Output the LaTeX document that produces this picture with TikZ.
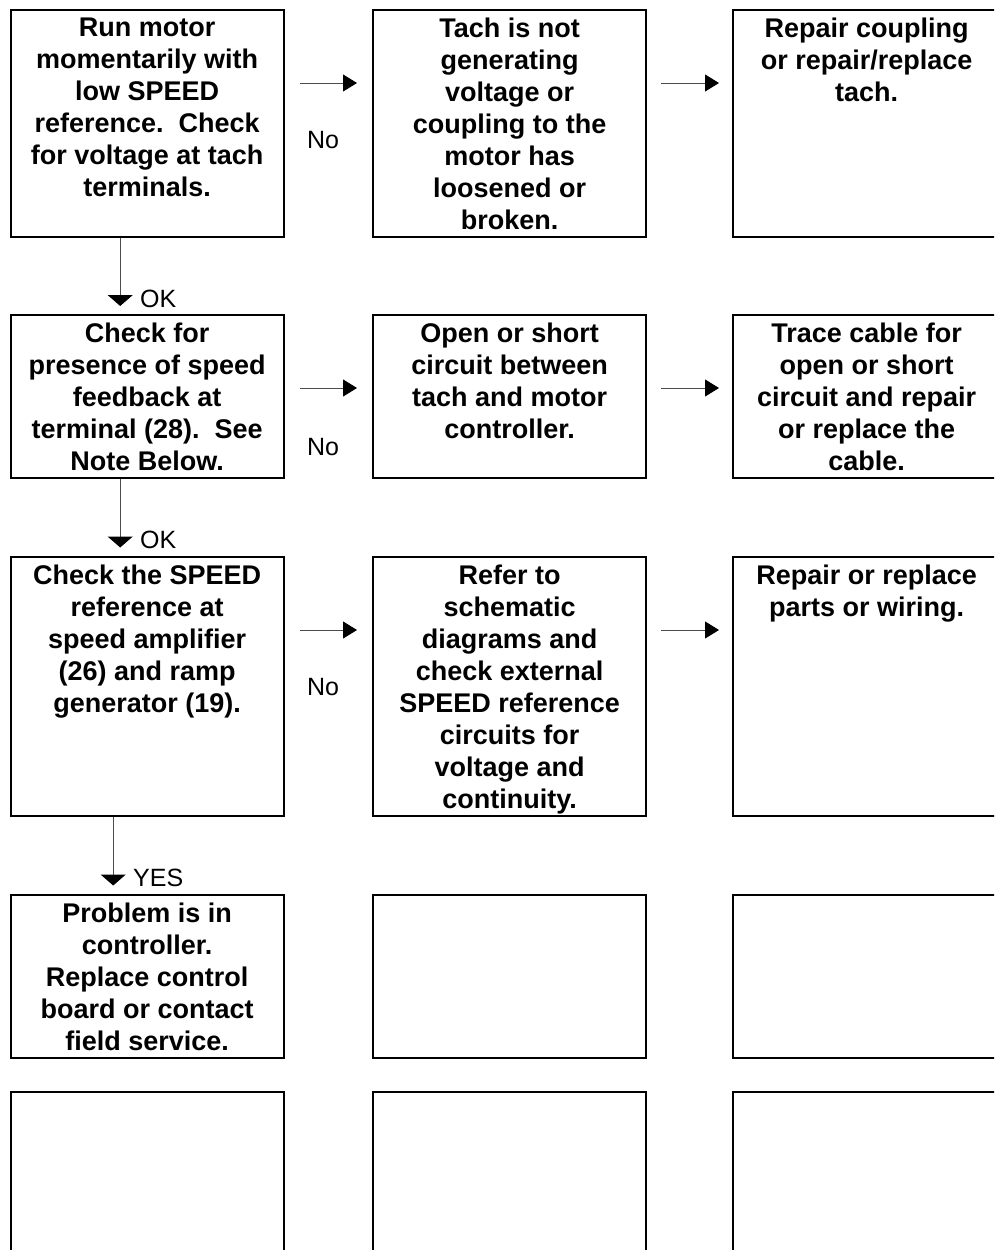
\documentclass[tikz,border=0pt]{standalone}
\usepackage{fontspec}
\setmainfont{Liberation Sans}
\usetikzlibrary{arrows.meta,calc}
\begin{document}
\begin{tikzpicture}[x=1pt,y=-1pt,
  box/.style={draw=black, line width=2.4pt, anchor=north west, inner sep=0pt, minimum width=273pt},
  boxtext/.style={anchor=north, align=center, inner sep=0pt,
    font=\fontsize{27}{32}\selectfont\bfseries},
  hflow/.style={draw=black!70, line width=1pt, -{Triangle[length=14pt,width=17pt,black]}},
  vflow/.style={draw=black!70, line width=1pt, -{Triangle[length=11pt,width=25pt,black]}},
  tag/.style={inner sep=0pt, font=\fontsize{25}{30}\selectfont}]
\useasboundingbox (0,0) rectangle (994,1250);
\clip (0,0) rectangle (994,1250);

% row 1
\node[box, minimum height=227pt] (r1c1) at (9.5,9) {};
\node[box, minimum height=227pt] (r1c2) at (372,9) {};
\node[box, minimum height=227pt] (r1c3) at (732,9) {};
% row 2
\node[box, minimum height=162.5pt] (r2c1) at (9.5,314) {};
\node[box, minimum height=162.5pt] (r2c2) at (372,314) {};
\node[box, minimum height=162.5pt] (r2c3) at (732,314) {};
% row 3
\node[box, minimum height=259.5pt] (r3c1) at (9.5,555.5) {};
\node[box, minimum height=259.5pt] (r3c2) at (372,555.5) {};
\node[box, minimum height=259.5pt] (r3c3) at (732,555.5) {};
% row 4
\node[box, minimum height=163pt] (r4c1) at (9.5,893.5) {};
\node[box, minimum height=163pt] (r4c2) at (372,893.5) {};
\node[box, minimum height=163pt] (r4c3) at (732,893.5) {};
% row 5 (runs past the bottom edge)
\node[box, minimum height=220pt] (r5c1) at (9.5,1091) {};
\node[box, minimum height=220pt] (r5c2) at (372,1091) {};
\node[box, minimum height=220pt] (r5c3) at (732,1091) {};

% box texts
\node[boxtext] (t11) at ($(r1c1.north)+(0,9)$) {Run motor\\momentarily with\\low SPEED\\reference.\ \ Check\\for voltage at tach\\terminals.};
\node[boxtext] (t12) at ($(r1c2.north)+(0,9)$) {Tach is not\\generating\\voltage or\\coupling to the\\motor has\\loosened or\\broken.};
\node[boxtext] (t13) at ($(r1c3.north)+(-3,9)$) {Repair coupling\\or repair/replace\\tach.};

\node[boxtext] (t21) at ($(r2c1.north)+(0,9)$) {Check for\\presence of speed\\feedback at\\terminal (28).\ \ See\\Note Below.};
\node[boxtext] (t22) at ($(r2c2.north)+(0,9)$) {Open or short\\circuit between\\tach and motor\\controller.};
\node[boxtext] (t23) at ($(r2c3.north)+(-3,9)$) {Trace cable for\\open or short\\circuit and repair\\or replace the\\cable.};

\node[boxtext] (t31) at ($(r3c1.north)+(0,9)$) {Check the SPEED\\reference at\\speed amplifier\\(26) and ramp\\generator (19).};
\node[boxtext] (t32) at ($(r3c2.north)+(0,9)$) {Refer to\\schematic\\diagrams and\\check external\\SPEED reference\\circuits for\\voltage and\\continuity.};
\node[boxtext] (t33) at ($(r3c3.north)+(-3,9)$) {Repair or replace\\parts or wiring.};

\node[boxtext] (t41) at ($(r4c1.north)+(0,9)$) {Problem is in\\controller.\\Replace control\\board or contact\\field service.};

% horizontal flow arrows
\draw[hflow] ($(r1c1.north east)+(15,74)$) -- ($(r1c2.north west)+(-15,74)$);
\draw[hflow] ($(r1c2.north east)+(14,74)$) -- ($(r1c3.north west)+(-13,74)$);
\draw[hflow] ($(r2c1.north east)+(15,74)$) -- ($(r2c2.north west)+(-15,74)$);
\draw[hflow] ($(r2c2.north east)+(14,74)$) -- ($(r2c3.north west)+(-13,74)$);
\draw[hflow] ($(r3c1.north east)+(15,74.5)$) -- ($(r3c2.north west)+(-15,74.5)$);
\draw[hflow] ($(r3c2.north east)+(14,74.5)$) -- ($(r3c3.north west)+(-13,74.5)$);

\node[tag] (no1) at (323,140) {No};
\node[tag] (no2) at (323,447) {No};
\node[tag] (no3) at (323,687) {No};

% vertical flow arrows
\draw[vflow] ($(r1c1.south)+(-27,0)$) -- ($(r2c1.north)+(-27,-8)$);
\draw[vflow] ($(r2c1.south)+(-27,0)$) -- ($(r3c1.north)+(-27,-8)$);
\draw[vflow] ($(r3c1.south)+(-34,0)$) -- ($(r4c1.north)+(-34,-8)$);

\node[tag, anchor=west] (ok1) at (140,299) {OK};
\node[tag, anchor=west] (ok2) at (140,540) {OK};
\node[tag, anchor=west] (yes) at (133,878) {YES};
\end{tikzpicture}
\end{document}
